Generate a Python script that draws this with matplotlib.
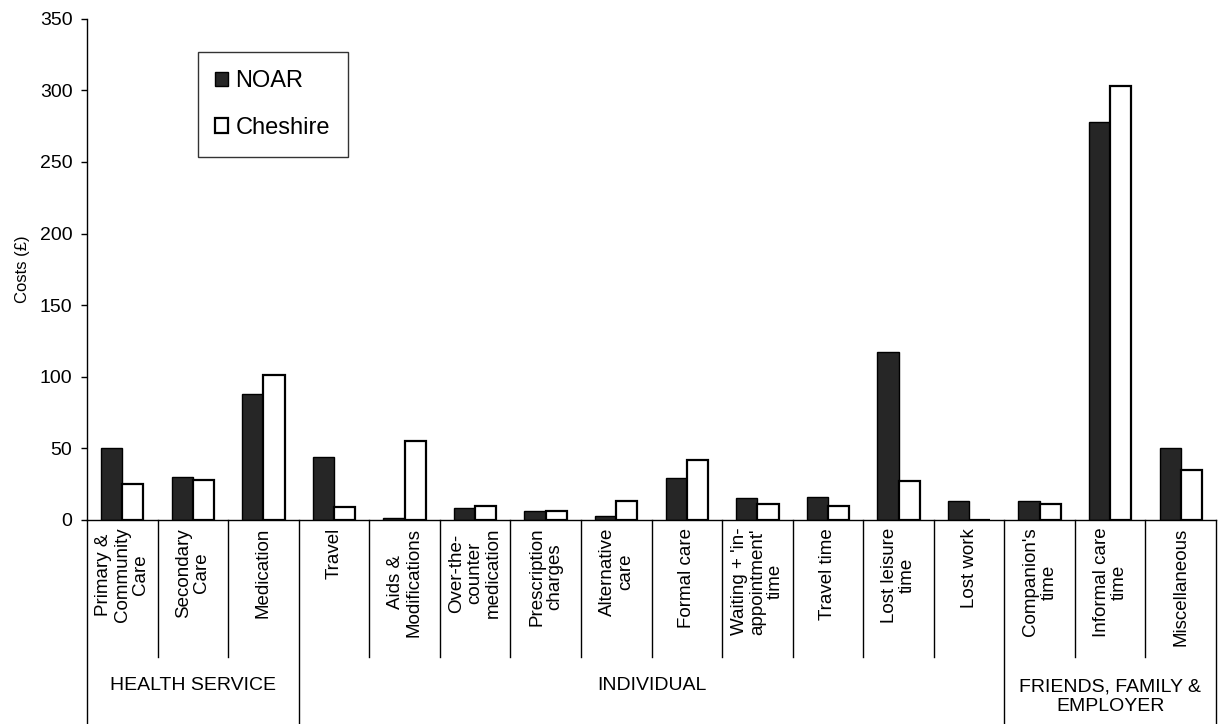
import numpy as np
import matplotlib
matplotlib.use('Agg')
from matplotlib import pyplot as plt
from matplotlib.transforms import blended_transform_factory

plt.rcParams['font.family'] = ['Liberation Sans', 'DejaVu Sans']

# cost categories (labels under the bars)
categories = ['Primary &\nCommunity\nCare', 'Secondary\nCare', 'Medication',
              'Travel', 'Aids &\nModifications', 'Over-the-\ncounter\nmedication',
              'Prescription\ncharges', 'Alternative\ncare', 'Formal care',
              "Waiting + 'in-\nappointment'\ntime", 'Travel time', 'Lost leisure\ntime',
              'Lost work', "Companion's\ntime", 'Informal care\ntime', 'Miscellaneous']
# mean costs per patient (£)
noar = [50, 30, 88, 44, 1, 8, 6, 3, 29, 15, 16, 117, 13, 13, 278, 50]
cheshire = [25, 28, 101, 9, 55, 10, 6, 13, 42, 11, 10, 27, 0, 11, 303, 35]
# groups of categories: (label, first index, last index)
groups = [('HEALTH SERVICE', 0, 2), ('INDIVIDUAL', 3, 12),
          ('FRIENDS, FAMILY &\nEMPLOYER', 13, 15)]
yticks = [0, 50, 100, 150, 200, 250, 300, 350]

fig = plt.figure(figsize=(12.25, 7.24), dpi=100)
ax = fig.add_axes([0.071, 0.282, 0.9217, 0.692])

x = np.arange(len(categories))
w = 0.3
ax.bar(x - w/2, noar, w, color='#262626', edgecolor='black', linewidth=1, label='NOAR')
ax.bar(x + w/2, cheshire, w, color='white', edgecolor='black', linewidth=1.6, label='Cheshire')

ax.set_xlim(-0.5, len(categories) - 0.5)
ax.set_ylim(0, 350)
ax.set_yticks(yticks)
ax.tick_params(axis='y', direction='out', length=4.5, width=1, pad=6, labelsize=14)
ax.set_xticks([])
ax.set_ylabel('Costs (£)', fontsize=12, labelpad=7)

for s in ['top', 'right']:
    ax.spines[s].set_visible(False)
ax.spines['left'].set_linewidth(1)
ax.spines['bottom'].set_linewidth(1)

# category table under the axis
trans = blended_transform_factory(ax.transData, ax.transAxes)
cat_bottom = -0.273
grp_bottom = -0.407
group_edges = [g[1] - 0.5 for g in groups] + [len(categories) - 0.5]
for i in range(len(categories) + 1):
    xe = i - 0.5
    yb = grp_bottom if xe in group_edges else cat_bottom
    ax.plot([xe, xe], [0, yb], color='black', lw=1, transform=trans, clip_on=False)

for i, lab in enumerate(categories):
    ax.text(i, -0.016, lab, transform=trans, rotation=90, ha='center', va='top',
            multialignment='center', fontsize=13.5, linespacing=1.1)

for lab, a, b in groups:
    yy = -0.353 if '\n' in lab else -0.331
    ax.text((a + b) / 2, yy, lab, transform=trans, ha='center', va='center',
            multialignment='center', fontsize=14, linespacing=1.15)

leg = ax.legend(loc='upper left', bbox_to_anchor=(0.098, 0.933), borderaxespad=0,
                fontsize=17, frameon=True, fancybox=False, edgecolor='black',
                handlelength=0.55, handleheight=0.55, handletextpad=0.3,
                labelspacing=1.05, borderpad=0.75)
leg.get_frame().set_linewidth(1)

plt.savefig('out.png', dpi=100)
